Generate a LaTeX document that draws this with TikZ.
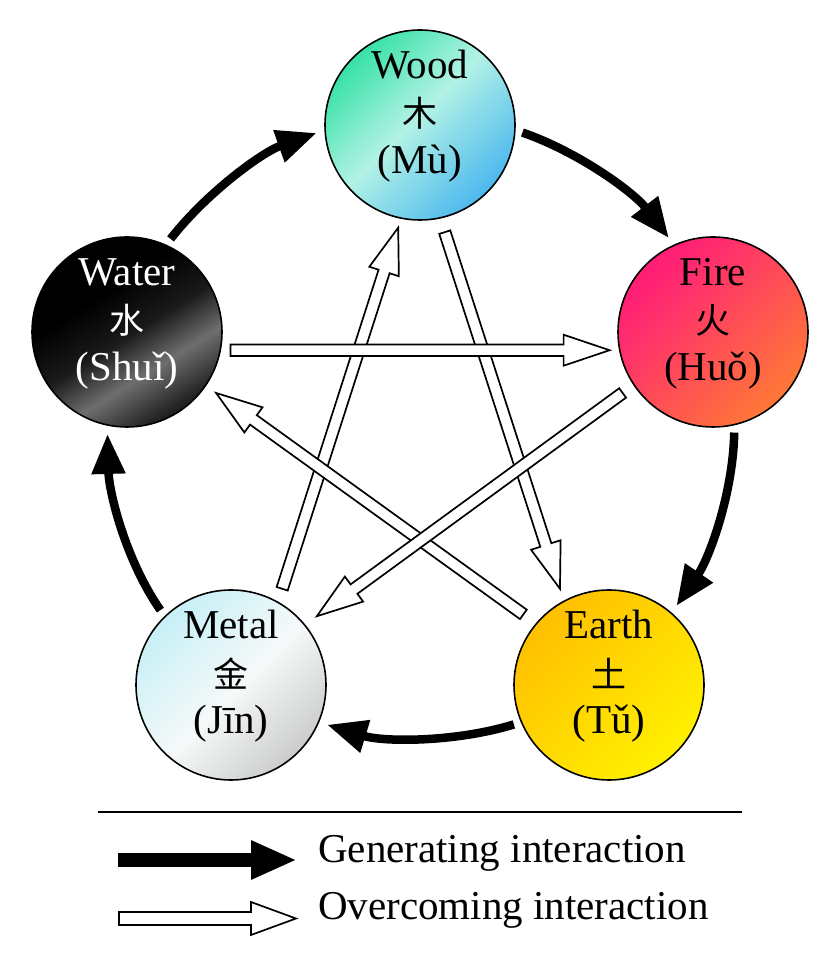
\documentclass[tikz,border=0pt]{standalone}
\usepackage{fontspec}
\setmainfont{Liberation Serif}
\newfontfamily\cjkfont{Noto Sans CJK SC}
\usetikzlibrary{arrows.meta,calc}
\definecolor{woodA}{HTML}{3CE2A8}
\definecolor{woodB}{HTML}{B2F2E6}
\definecolor{woodC}{HTML}{48B6EE}
\definecolor{fireA}{HTML}{FF2076}
\definecolor{fireC}{HTML}{FF7A36}
\definecolor{earthA}{HTML}{FFC200}
\definecolor{earthC}{HTML}{FFF200}
\definecolor{metalA}{HTML}{C8F0F6}
\definecolor{metalB}{HTML}{F6F9F9}
\definecolor{metalC}{HTML}{C2C2C2}
\definecolor{waterA}{HTML}{1A1A1A}
\definecolor{waterB}{HTML}{6E6E6E}
\definecolor{waterC}{HTML}{262626}
\pgfdeclarehorizontalshading{woodshade}{100bp}{color(0bp)=(woodA); color(26bp)=(woodA); color(48bp)=(woodB); color(76bp)=(woodC); color(100bp)=(woodC)}
\pgfdeclarehorizontalshading{fireshade}{100bp}{color(0bp)=(fireA); color(28bp)=(fireA); color(76bp)=(fireC); color(100bp)=(fireC)}
\pgfdeclarehorizontalshading{earthshade}{100bp}{color(0bp)=(earthA); color(28bp)=(earthA); color(76bp)=(earthC); color(100bp)=(earthC)}
\pgfdeclarehorizontalshading{metalshade}{100bp}{color(0bp)=(metalA); color(26bp)=(metalA); color(52bp)=(metalB); color(80bp)=(metalC); color(100bp)=(metalC)}
\pgfdeclarehorizontalshading{watershade}{100bp}{color(0bp)=(black); color(38bp)=(black); color(51bp)=(waterA); color(62bp)=(waterB); color(73bp)=(waterC); color(82bp)=(black); color(100bp)=(black)}
% hollow arrow: tail, tip, half shaft, half head, head length
\newcommand\hollowarrow[5]{%
  \coordinate (ha) at (#1);
  \coordinate (hb) at (#2);
  \coordinate (hh) at ($(hb)!#5!(ha)$);
  \draw[hollow] ($(ha)!#3!90:(hb)$) -- ($(hh)!#3!90:(hb)$) -- ($(hh)!#4!90:(hb)$)
    -- (hb) -- ($(hh)!#4!-90:(hb)$) -- ($(hh)!#3!-90:(hb)$) -- ($(ha)!#3!-90:(hb)$) -- cycle;
}
\begin{document}
\begin{tikzpicture}[x=1pt,y=1pt,
  element/.style={circle, draw=black, line width=1.6pt, minimum size=190pt, inner sep=0pt, outer sep=0pt, shade, shading angle=-45},
  lbl/.style={font=\fontsize{41}{42}\selectfont, anchor=base, inner sep=0pt},
  cjklbl/.style={font=\cjkfont\fontsize{35}{36}\selectfont, anchor=center, inner sep=0pt},
  gen/.style={line width=8.5pt, -{Triangle[width=32pt,length=40pt]}, shorten <=8pt, shorten >=9pt, looseness=0.87},
  hollow/.style={draw=black, fill=white, line width=1.7pt, line join=miter},
  legendtxt/.style={font=\fontsize{41}{42}\selectfont, anchor=base west, inner sep=0pt}]
\useasboundingbox (0,0) rectangle (840,966);
\fill[white] (0,0) rectangle (840,966);

% elements
\node[element, shading=woodshade] (wood) at (420,841) {};
\node[element, shading=fireshade] (fire) at (713,634) {};
\node[element, shading=earthshade] (earth) at (609,281) {};
\node[element, shading=metalshade] (metal) at (231,281) {};
\node[element, shading=watershade, shading angle=-58] (water) at (127,634) {};

% labels
\node[lbl] (woodT) at ($(wood)+(0,46)$) {Wood};
\node[cjklbl] (woodC) at ($(wood)+(0,11.5)$) {木};
\node[lbl] (woodP) at ($(wood)+(0,-48.5)$) {(Mù)};
\node[lbl] (fireT) at ($(fire)+(0,46)$) {Fire};
\node[cjklbl] (fireC) at ($(fire)+(0,11.5)$) {火};
\node[lbl] (fireP) at ($(fire)+(0,-48.5)$) {(Huǒ)};
\node[lbl] (earthT) at ($(earth)+(0,46)$) {Earth};
\node[cjklbl] (earthC) at ($(earth)+(0,11.5)$) {土};
\node[lbl] (earthP) at ($(earth)+(0,-48.5)$) {(Tǔ)};
\node[lbl] (metalT) at ($(metal)+(0,46)$) {Metal};
\node[cjklbl] (metalC) at ($(metal)+(0,11.5)$) {金};
\node[lbl] (metalP) at ($(metal)+(0,-48.5)$) {(Jīn)};
\node[lbl, text=white] (waterT) at ($(water)+(0,46)$) {Water};
\node[cjklbl, text=white] (waterC) at ($(water)+(0,11.5)$) {水};
\node[lbl, text=white] (waterP) at ($(water)+(0,-48.5)$) {(Shuǐ)};

% generating cycle
\draw[gen] (wood.-3.9) to[out=-19, in=127.5] (fire.114.6);
\draw[gen] (fire.-77.9) to[out=-91, in=55.5] (earth.49.2);
\draw[gen] (earth.203.9) to[out=-163, in=-17] (metal.-23.9);
\draw[gen] (metal.134.6) to[out=125, in=-88.5] (water.258);
\draw[gen] (water.66.1) to[out=52, in=199.5] (wood.183.9);

% overcoming star
\hollowarrow{$(metal)+(62:109)$}{$(wood)+(258:105)$}{5.8pt}{15.5pt}{46pt}
\hollowarrow{$(wood)+(-77:110)$}{$(earth)+(117:108)$}{5.8pt}{15.5pt}{46pt}
\hollowarrow{$(earth)+(140.5:111)$}{$(water)+(-34.4:108)$}{5.8pt}{15.5pt}{46pt}
\hollowarrow{$(fire)+(-146:109)$}{$(metal)+(38.7:110)$}{5.8pt}{15.5pt}{46pt}
\hollowarrow{$(water)+(-10:105)$}{$(fire)+(190:105)$}{5.8pt}{15.5pt}{46pt}

% legend
\coordinate (rule1) at (98,154);
\coordinate (rule2) at (742,154);
\draw[line width=2pt] (rule1) -- (rule2);
\coordinate (g1) at (118,106);
\coordinate (g2) at (297,106);
\draw[line width=14pt, -{Triangle[width=36pt,length=46pt]}] (g1) -- (g2);
\coordinate (o1) at (119,47.5);
\coordinate (o2) at (296,47.5);
\hollowarrow{o1}{o2}{6.5pt}{16.5pt}{45pt}
\node[legendtxt] (gtxt) at (318,103) {Generating interaction};
\node[legendtxt] (otxt) at (318,46) {Overcoming interaction};
\end{tikzpicture}
\end{document}
